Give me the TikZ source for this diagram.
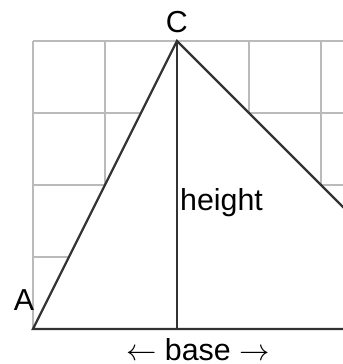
\documentclass[tikz,border=0pt]{standalone}
\usepackage{fontspec}
\setmainfont{Liberation Sans}
\usetikzlibrary{positioning}
\begin{document}
\begin{tikzpicture}[line width=0.8pt,font=\fontsize{12}{14}\selectfont,
  gridline/.style={draw=black!27,line width=0.6pt},
  edge/.style={draw=black!80,line width=0.9pt}]
  \useasboundingbox (-0.458,-0.486) rectangle (4.306,4.57);
  \clip (-0.458,-0.486) rectangle (4.306,4.57);

  \draw[gridline] (0,0) grid (4.5,4);

  \coordinate (A) at (0,0);
  \coordinate (B) at (6,0);
  \coordinate (C) at (2,4);
  \coordinate (H) at (2,0);

  \filldraw[edge,fill=white] (A) -- (B) -- (C) -- cycle;
  \draw[edge] (C) -- (H);

  \node[above=0.1cm,inner sep=0pt] (labC) at (C) {C};
  \node[anchor=south east,inner sep=0pt] (labA) at ([shift={(0.03,0.24)}]A) {A};
  \node[right=0.03cm,inner sep=0pt] (labheight) at ([yshift=1.75cm]H) {height};
  \node[anchor=base,inner sep=0pt] (labbase) at ([shift={(0.29,-0.444)}]H) {$\leftarrow$ base $\rightarrow$};
\end{tikzpicture}
\end{document}
